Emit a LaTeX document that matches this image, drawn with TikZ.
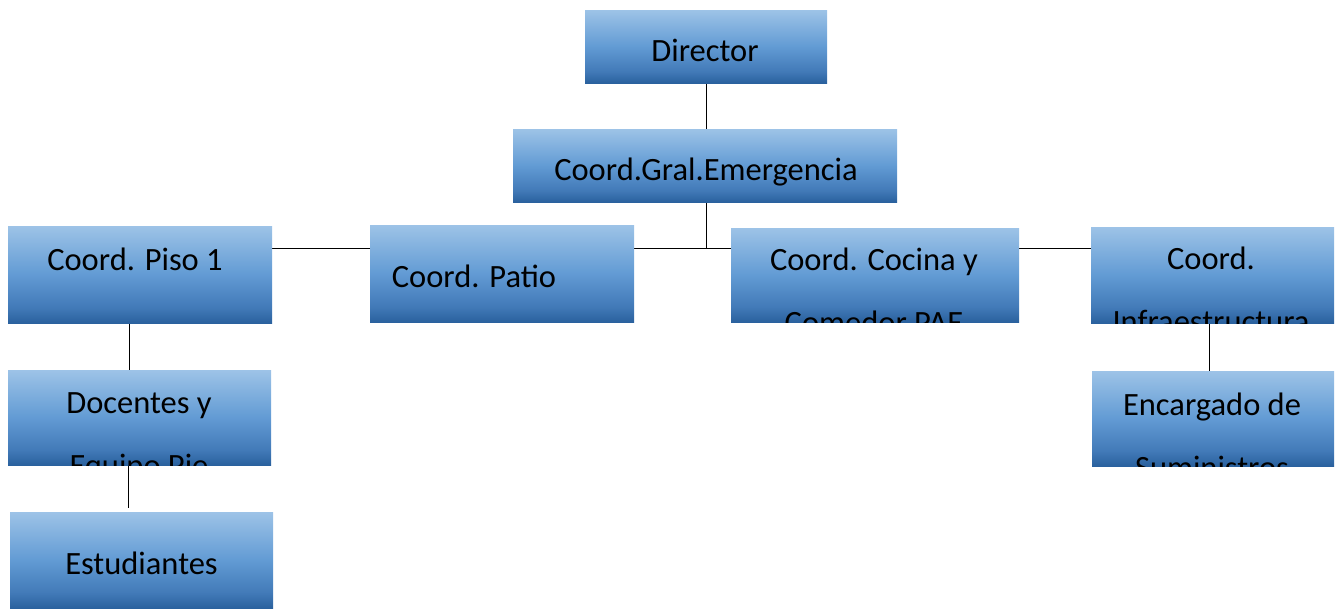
\documentclass[tikz,border=0pt]{standalone}
\usepackage{fontspec}
\setmainfont{Carlito}
\usetikzlibrary{backgrounds}
\definecolor{boxtop}{RGB}{157,195,231}
\definecolor{boxmid}{RGB}{98,155,212}
\definecolor{boxlow}{RGB}{66,122,184}
\definecolor{boxbot}{RGB}{42,97,158}
\pgfdeclareverticalshading{orgshade}{100bp}{color(0bp)=(boxbot); color(25bp)=(boxbot); color(33bp)=(boxlow); color(50bp)=(boxmid); color(75bp)=(boxtop); color(100bp)=(boxtop)}
\tikzset{
  orgbox/.style={rectangle, inner sep=0pt, outer sep=0pt, shading=orgshade},
  orgtext/.style={anchor=base, inner sep=0pt, font=\fontsize{32.5}{59}\selectfont, text=black},
  link/.style={draw=black, line width=1pt}
}
\newcommand{\twolines}[2]{\begin{tabular}[t]{@{}c@{}}#1\rule[-22pt]{0pt}{22pt}\\\rule{0pt}{37pt}#2\end{tabular}}
\begin{document}
\begin{tikzpicture}[x=1pt,y=-1pt]
\useasboundingbox (0,0) rectangle (1338,608);
% boxes
\node[orgbox, minimum width=242pt, minimum height=73pt] (dir) at (706,46.5) {};
\node[orgbox, minimum width=384pt, minimum height=73pt] (gral) at (705,165.5) {};
\node[orgbox, minimum width=264pt, minimum height=97pt] (piso1) at (140,274.5) {};
\node[orgbox, minimum width=264pt, minimum height=97pt] (patio) at (502,273.5) {};
\node[orgbox, minimum width=288pt, minimum height=94pt] (cocina) at (875,275) {};
\node[orgbox, minimum width=243pt, minimum height=96pt] (infra) at (1212.5,275) {};
\node[orgbox, minimum width=263pt, minimum height=95pt] (docentes) at (139.5,417.5) {};
\node[orgbox, minimum width=242pt, minimum height=95pt] (encargado) at (1213,418.5) {};
\node[orgbox, minimum width=263pt, minimum height=96pt] (estudiantes) at (141.5,560) {};
% texts
\begin{scope}
  \clip (dir.south west) rectangle (dir.north east);
  \node[orgtext] (tdir) at (705,61) {Director};
\end{scope}
\begin{scope}
  \clip (gral.south west) rectangle (gral.north east);
  \node[orgtext] (tgral) at (706,180) {Coord.Gral.Emergencia};
\end{scope}
\begin{scope}
  \clip (piso1.south west) rectangle (piso1.north east);
  \node[orgtext] (tpiso1) at (135,270) {Coord. Piso 1};
\end{scope}
\begin{scope}
  \clip (patio.south west) rectangle (patio.north east);
  \node[orgtext] (tpatio) at (474,287) {Coord. Patio};
\end{scope}
\begin{scope}
  \clip (cocina.south west) rectangle (cocina.north east);
  \node[orgtext] (tcocina) at (874,270) {\twolines{Coord. Cocina y}{Comedor PAE}};
\end{scope}
\begin{scope}
  \clip (infra.south west) rectangle (infra.north east);
  \node[orgtext] (tinfra) at (1211,269) {\twolines{Coord.}{Infraestructura}};
\end{scope}
\begin{scope}
  \clip (docentes.south west) rectangle (docentes.north east);
  \node[orgtext] (tdocentes) at (139,413) {\twolines{Docentes y}{Equipo Pie}};
\end{scope}
\begin{scope}
  \clip (encargado.south west) rectangle (encargado.north east);
  \node[orgtext] (tencargado) at (1212,415) {\twolines{Encargado de}{Suministros}};
\end{scope}
\begin{scope}
  \clip (estudiantes.south west) rectangle (estudiantes.north east);
  \node[orgtext] (testudiantes) at (141.5,574) {Estudiantes};
\end{scope}
% connectors
\coordinate (j) at (706,248);
\coordinate (estop) at (128,508);
\begin{scope}[on background layer]
  \draw[link] (dir.south) -- (gral.north -| dir.south);
  \draw[link] (gral.south -| dir.south) -- (j);
  \draw[link] (piso1.east |- j) -- (infra.west |- j);
  \draw[link] ([xshift=-11pt]piso1.south) -- ([xshift=-10.5pt]docentes.north);
  \draw[link] ([xshift=-11.5pt]docentes.south) -- (estop);
  \draw[link] ([xshift=-3.5pt]infra.south) -- ([xshift=-4pt]encargado.north);
\end{scope}
\end{tikzpicture}
\end{document}
